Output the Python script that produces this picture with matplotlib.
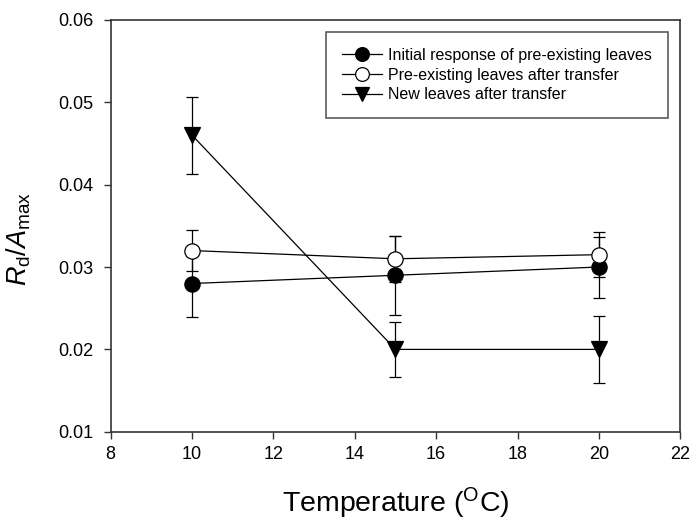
import matplotlib.pyplot as plt

plt.rcParams['font.family'] = 'Liberation Sans'
plt.rcParams['mathtext.fontset'] = 'custom'
plt.rcParams['mathtext.rm'] = 'Liberation Sans'
plt.rcParams['mathtext.it'] = 'Liberation Sans:italic'

temps = [10, 15, 20]

initial = [0.028, 0.029, 0.030]
initial_err = [0.0041, 0.0048, 0.0037]

pre_existing = [0.032, 0.031, 0.0315]
pre_existing_err = [0.0025, 0.0028, 0.0027]

new_leaves = [0.046, 0.020, 0.020]
new_leaves_err = [0.0047, 0.0033, 0.0041]

labels = ["Initial response of pre-existing leaves",
          "Pre-existing leaves after transfer",
          "New leaves after transfer"]

fig = plt.figure(figsize=(6.92, 5.24), dpi=100)
ax = fig.add_axes([0.160, 0.176, 0.823, 0.786])

common = dict(color='black', lw=0.9, capsize=4.5, capthick=0.9,
              elinewidth=0.9, markersize=11, markeredgecolor='black',
              markeredgewidth=0.9)

c1 = ax.errorbar(temps, initial, yerr=initial_err, fmt='-o',
                 markerfacecolor='black', label=labels[0], zorder=3, **common)
c2 = ax.errorbar(temps, pre_existing, yerr=pre_existing_err, fmt='-o',
                 markerfacecolor='white', label=labels[1], zorder=4, **common)
c3 = ax.errorbar(temps, new_leaves, yerr=new_leaves_err, fmt='-v',
                 markerfacecolor='black', label=labels[2], zorder=5, **common)

ax.set_xlim(8, 22)
ax.set_ylim(0.01, 0.06)
ax.set_xticks(range(8, 23, 2))
ax.set_yticks([0.01, 0.02, 0.03, 0.04, 0.05, 0.06])
ax.set_yticklabels(['0.01', '0.02', '0.03', '0.04', '0.05', '0.06'])

for sp in ax.spines.values():
    sp.set_color('#333333')
    sp.set_linewidth(1.2)
ax.tick_params(direction='out', length=5, width=1, color='#333333',
               labelsize=13)
ax.tick_params(axis='x', pad=5)
ax.tick_params(axis='y', pad=7.5)

ax.set_xlabel(r'Temperature ($^\mathrm{O}$C)', fontsize=20.5, labelpad=17)
ax.set_ylabel(r'$\mathit{R}_\mathrm{d}/\mathit{A}_\mathrm{max}$', fontsize=19.5)
ax.yaxis.set_label_coords(-0.136, 0.468)

# legend shows only the line + marker, no error bars
leg = ax.legend(handles=[c1[0], c2[0], c3[0]], labels=labels,
                loc='upper right', bbox_to_anchor=(0.979, 0.971),
                fontsize=11.5, frameon=True, fancybox=False, borderpad=1.0,
                handlelength=2.5, handletextpad=0.4, labelspacing=0.3,
                markerscale=0.9, borderaxespad=0)
leg.get_frame().set_edgecolor('#333333')
leg.get_frame().set_linewidth(1.2)

fig.savefig('out.png', dpi=100)
